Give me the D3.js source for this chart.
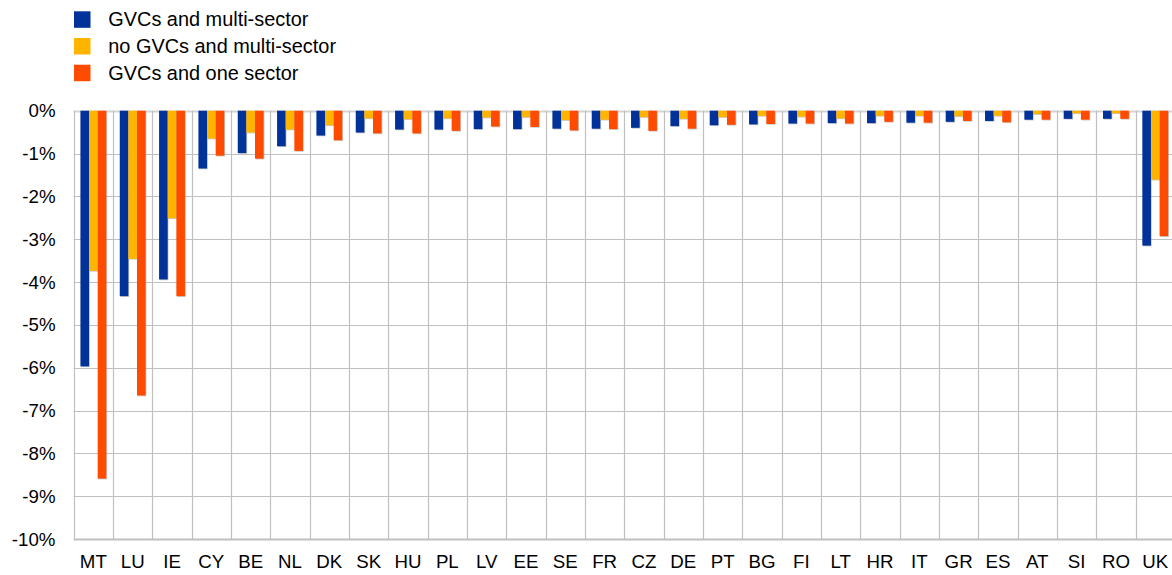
<!DOCTYPE html>
<html><head><meta charset="utf-8">
<script src="https://cdn.jsdelivr.net/npm/d3@7"></script>
<style>
html,body{margin:0;padding:0;background:#fff;}
svg{display:block;font-family:"Liberation Sans",Arial,sans-serif;}
</style></head>
<body><svg id="c" width="1172" height="575"></svg>
<script>
const categories = ["MT","LU","IE","CY","BE","NL","DK","SK","HU","PL","LV","EE","SE","FR","CZ","DE","PT","BG","FI","LT","HR","IT","GR","ES","AT","SI","RO","UK"];
const seriesNames = ["GVCs and multi-sector","no GVCs and multi-sector","GVCs and one sector"];
const gvcsMulti   = [-5.97,-4.33,-3.94,-1.35,-0.99,-0.83,-0.58,-0.51,-0.44,-0.44,-0.43,-0.43,-0.42,-0.42,-0.40,-0.36,-0.34,-0.32,-0.30,-0.29,-0.29,-0.28,-0.26,-0.24,-0.21,-0.19,-0.19,-3.15];
const noGvcsMulti = [-3.74,-3.46,-2.51,-0.65,-0.51,-0.44,-0.34,-0.18,-0.20,-0.18,-0.16,-0.15,-0.22,-0.21,-0.15,-0.19,-0.15,-0.12,-0.14,-0.18,-0.12,-0.12,-0.13,-0.12,-0.08,-0.06,-0.06,-1.61];
const gvcsOne     = [-8.59,-6.65,-4.33,-1.05,-1.12,-0.94,-0.69,-0.53,-0.53,-0.47,-0.37,-0.38,-0.46,-0.43,-0.47,-0.42,-0.33,-0.31,-0.30,-0.30,-0.26,-0.28,-0.24,-0.27,-0.21,-0.21,-0.19,-2.93];
const yTicks = [0,-1,-2,-3,-4,-5,-6,-7,-8,-9,-10];
const yTickLabels = ["0%","-1%","-2%","-3%","-4%","-5%","-6%","-7%","-8%","-9%","-10%"];
const colors = ["#003299","#ffb400","#ff4b00"];

const seriesValues = [gvcsMulti, noGvcsMulti, gvcsOne];
const svg = d3.select("#c");
const plotLeft = 73.7, plotTop = 110.7, plotBottom = 539, step = 39.33;
const x = d3.scaleBand().domain(categories).range([plotLeft, plotLeft + step*categories.length]).padding(0);
const x1 = d3.scaleBand().domain(d3.range(3)).range([0, x.bandwidth()]).paddingInner(0).paddingOuter(0.78);
const y = d3.scaleLinear().domain([0,-10]).range([plotTop,plotBottom]);

// grid
const g = svg.append("g");
g.selectAll("line.h").data(yTicks).enter().append("line")
  .attr("x1",plotLeft).attr("x2",1172)
  .attr("y1",d=>Math.round(y(d))+0.5).attr("y2",d=>Math.round(y(d))+0.5)
  .attr("stroke",d=> d===0 ? "#d4d4d4" : "#c0c0c0")
  .attr("stroke-width",d=> (d===0||d===-10) ? 2 : 1.2);
const vb = categories.map(c=>x(c));
g.selectAll("line.v").data(vb).enter().append("line")
  .attr("x1",d=>Math.round(d)+0.5).attr("x2",d=>Math.round(d)+0.5)
  .attr("y1",plotTop).attr("y2",plotBottom)
  .attr("stroke","#c0c0c0").attr("stroke-width",1.2);

// bars
const bars = svg.append("g");
categories.forEach((c,i)=>{
  seriesValues.forEach((vals,s)=>{
    const v = vals[i];
    const bx = x(c)+x1(s), bw = x1.bandwidth();
    bars.append("rect").attr("x",bx+0.8).attr("y",y(0)+0.8)
      .attr("width",bw).attr("height",y(v)-y(0))
      .attr("fill","#8a8a8a").attr("opacity",0.45);
  });
  seriesValues.forEach((vals,s)=>{
    const v = vals[i];
    bars.append("rect").attr("x",x(c)+x1(s)).attr("y",y(0))
      .attr("width",x1.bandwidth()).attr("height",y(v)-y(0))
      .attr("fill",colors[s]);
  });
});

// y labels
svg.append("g").selectAll("text").data(yTicks).enter().append("text")
  .attr("x",55.5).attr("y",d=>y(d)).attr("dy","0.35em")
  .attr("text-anchor","end").attr("font-size","18.7px").attr("fill","#000")
  .text((d,i)=>yTickLabels[i]);

// x labels
svg.append("g").selectAll("text").data(categories).enter().append("text")
  .attr("x",d=>x(d)+x.bandwidth()/2).attr("y",568)
  .attr("text-anchor","middle").attr("font-size","18.7px").attr("fill","#000")
  .text(d=>d);

// legend
const lg = svg.append("g");
seriesNames.forEach((n,i)=>{
  const cy = 19.3 + i*26.7;
  lg.append("rect").attr("x",74).attr("y",cy-8).attr("width",16.5).attr("height",16.5).attr("fill",colors[i]);
  lg.append("text").attr("x",108.3).attr("y",cy).attr("dy","0.35em")
    .attr("font-size","19.9px").attr("fill","#000").text(n);
});
</script></body></html>
